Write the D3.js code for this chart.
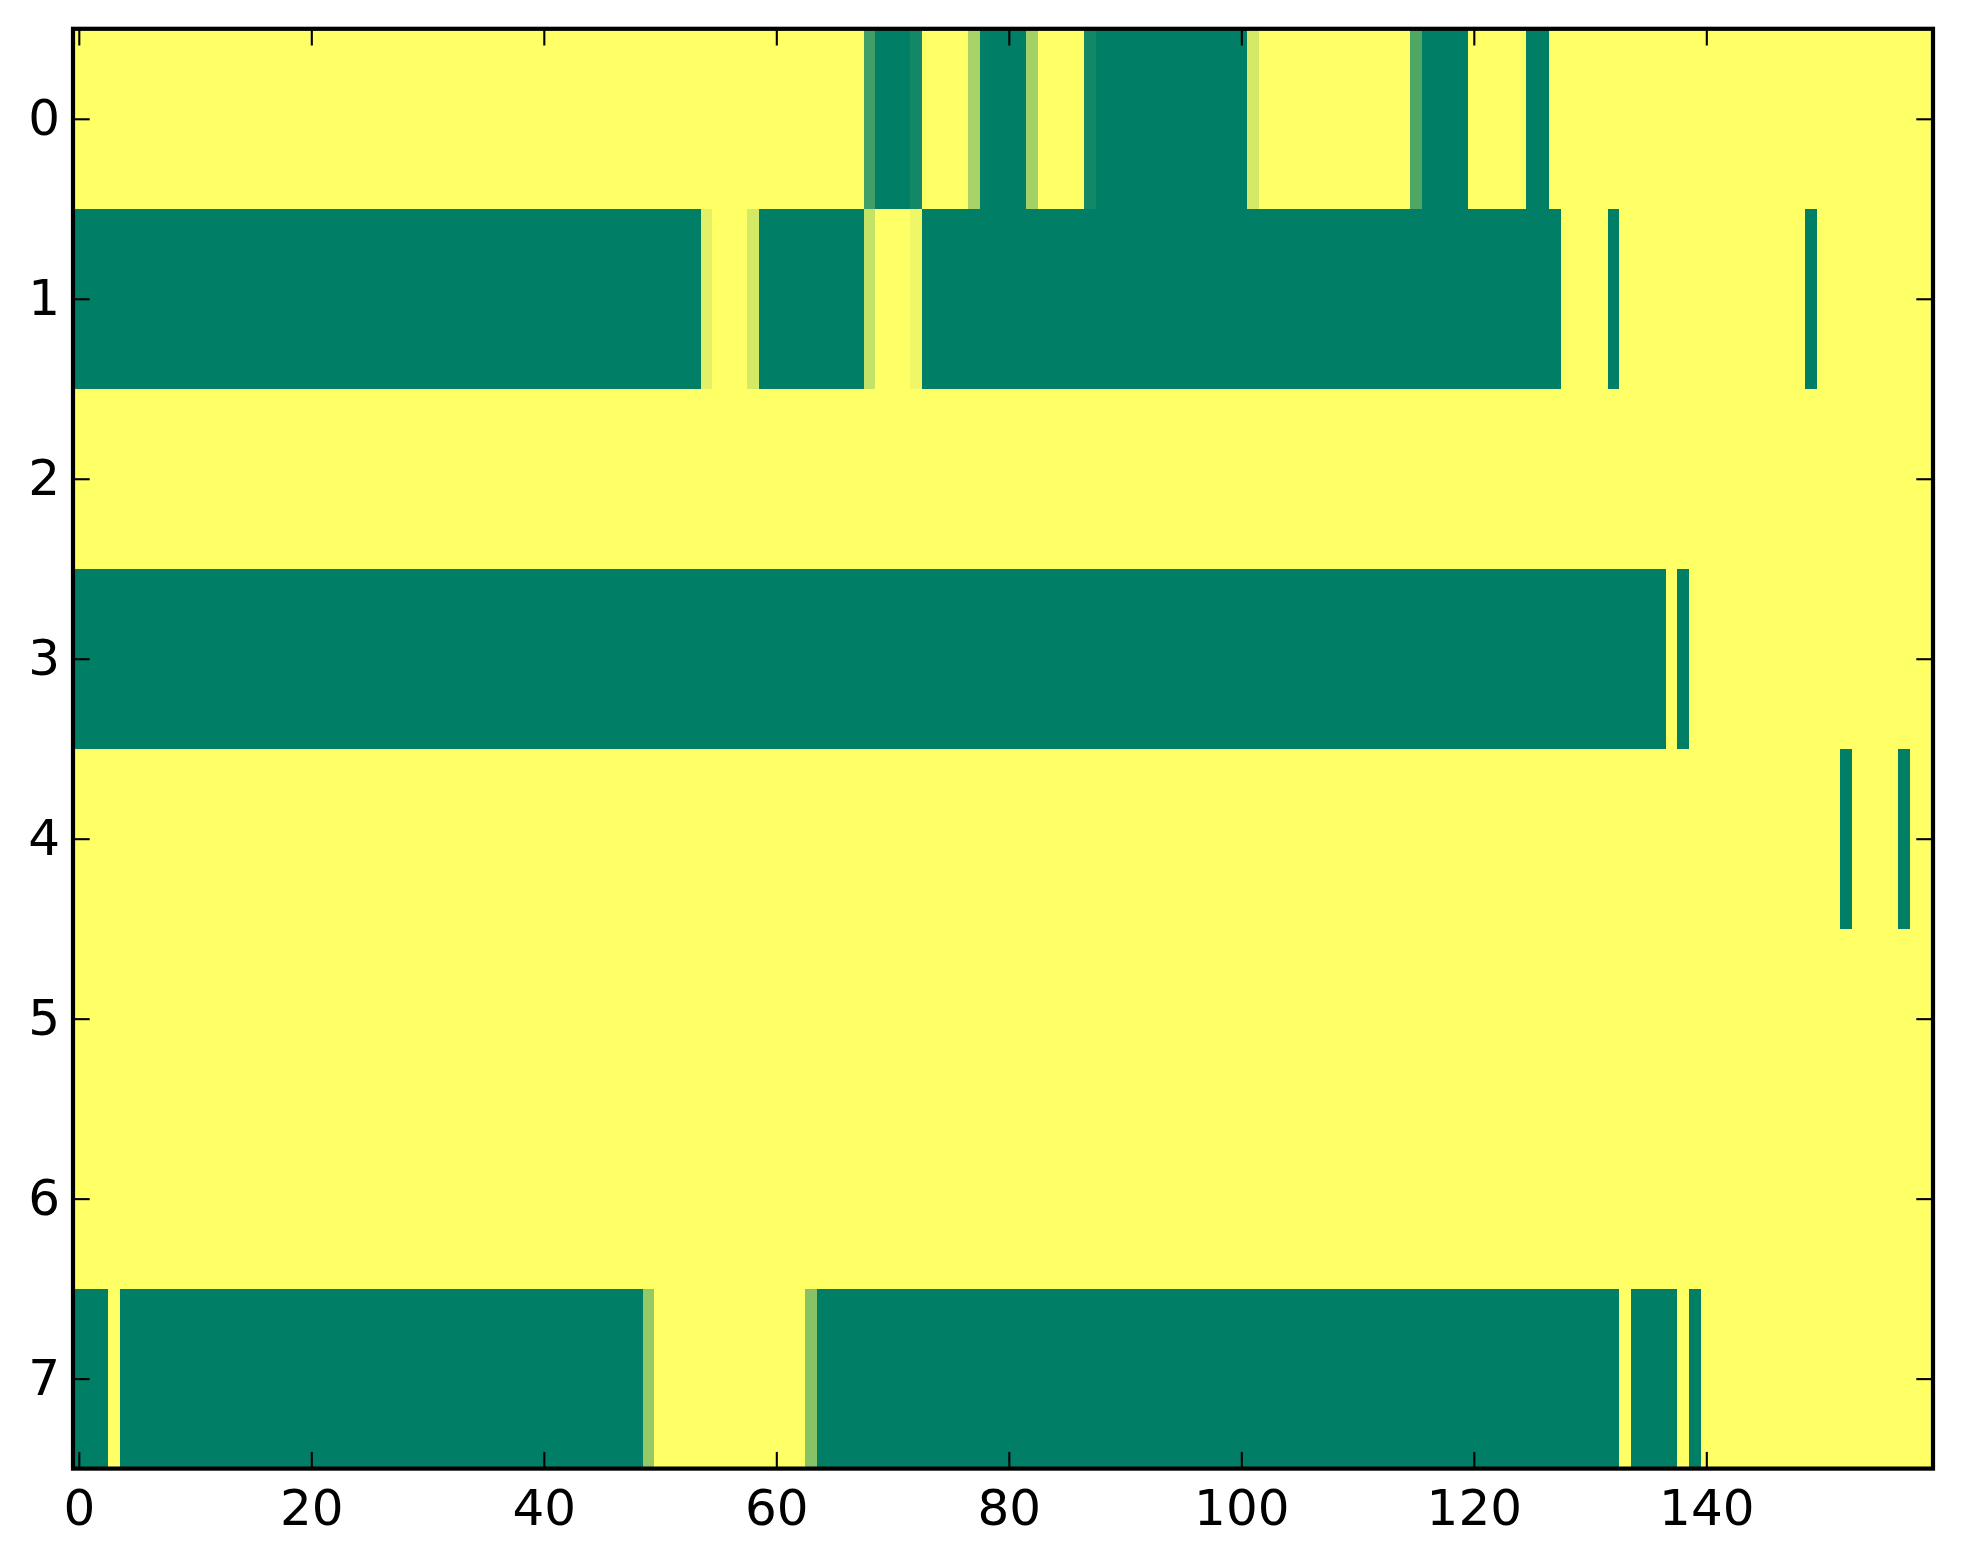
<!DOCTYPE html>
<html>
<head>
<meta charset="utf-8">
<script src="https://cdn.jsdelivr.net/npm/d3@7"></script>
<style>
  html, body { margin: 0; padding: 0; background: #ffffff; }
  svg { display: block; }
</style>
</head>
<body>
<script>
// ---- DATA ----
// Each row: 160 cells, written in groups of 10. '0' = 0, '1' = 1, letters = intermediate values (see levelCodes).
const levelCodes = ["0", "1", "a", "b", "c", "d", "e", "f", "g", "h", "i", "j", "k"];
const levelValues = [0, 1, 0.06, 0.11, 0.17, 0.23, 0.34, 0.36, 0.42, 0.47, 0.69, 0.75, 0.93];

const row0 = "0000000000 0000000000 0000000000 0000000000 0000000000 0000000000 00000000j1 11k0000e11 11f0000k11 1111111111 1c00000000 00000i1111 0000011000 0000000000 0000000000 0000000000";
const row1 = "1111111111 1111111111 1111111111 1111111111 1111111111 1111b000c1 11111111d0 00a1111111 1111111111 1111111111 1111111111 1111111111 1111111100 0010000000 0000000001 0000000000";
const row2 = "0000000000 0000000000 0000000000 0000000000 0000000000 0000000000 0000000000 0000000000 0000000000 0000000000 0000000000 0000000000 0000000000 0000000000 0000000000 0000000000";
const row3 = "1111111111 1111111111 1111111111 1111111111 1111111111 1111111111 1111111111 1111111111 1111111111 1111111111 1111111111 1111111111 1111111111 1111111010 0000000000 0000000000";
const row4 = "0000000000 0000000000 0000000000 0000000000 0000000000 0000000000 0000000000 0000000000 0000000000 0000000000 0000000000 0000000000 0000000000 0000000000 0000000000 0010000100";
const row5 = "0000000000 0000000000 0000000000 0000000000 0000000000 0000000000 0000000000 0000000000 0000000000 0000000000 0000000000 0000000000 0000000000 0000000000 0000000000 0000000000";
const row6 = "0000000000 0000000000 0000000000 0000000000 0000000000 0000000000 0000000000 0000000000 0000000000 0000000000 0000000000 0000000000 0000000000 0000000000 0000000000 0000000000";
const row7 = "1110111111 1111111111 1111111111 1111111111 111111111g 0000000000 000h111111 1111111111 1111111111 1111111111 1111111111 1111111111 1111111111 1110111101 0000000000 0000000000";

const rowStrings = [row0, row1, row2, row3, row4, row5, row6, row7];
const rowLabels = [0, 1, 2, 3, 4, 5, 6, 7];
const xTickValues = [0, 20, 40, 60, 80, 100, 120, 140];
const nCols = 160;

// ---- BUILD MATRIX ----
const codeMap = new Map(levelCodes.map((c, i) => [c, levelValues[i]]));
const cells = [];
rowStrings.forEach((s, r) => {
  const chars = s.replace(/\s+/g, "").split("");
  chars.forEach((ch, c) => cells.push({ row: r, col: c, value: codeMap.get(ch) }));
});

// ---- LAYOUT ----
const W = 1963, H = 1564;
const pLeft = 73.0, pRight = 1933.0, pTop = 28.8, pBottom = 1468.6;
const fontSize = 50;
const tickLen = 16.7;

const svg = d3.select("body").append("svg")
  .attr("width", W).attr("height", H)
  .attr("viewBox", `0 0 ${W} ${H}`);

svg.append("rect").attr("width", W).attr("height", H).attr("fill", "#ffffff");

const x = d3.scaleLinear().domain([-0.5, nCols - 0.5]).range([pLeft, pRight]);
const y = d3.scaleLinear().domain([-0.5, rowLabels.length - 0.5]).range([pTop, pBottom]);
const color = d3.scaleLinear().domain([0, 1]).range(["#ffff66", "#007f66"]);

// ---- CELLS ----
svg.append("g")
  .selectAll("rect")
  .data(cells)
  .join("rect")
  .attr("x", d => x(d.col - 0.5))
  .attr("y", d => y(d.row - 0.5))
  .attr("width", d => x(d.col + 0.5) - x(d.col - 0.5) + 0.6)
  .attr("height", d => y(d.row + 0.5) - y(d.row - 0.5) + 0.6)
  .attr("fill", d => color(d.value))
  .attr("shape-rendering", "crispEdges");

// ---- AXES (inward ticks on all four sides) ----
function styleAxis(g) {
  g.select(".domain").remove();
  g.selectAll(".tick line").attr("stroke", "#000").attr("stroke-width", 2.1);
  g.selectAll(".tick text")
    .attr("fill", "#000")
    .style("font-family", "'DejaVu Sans', sans-serif")
    .style("font-size", fontSize + "px");
}

svg.append("g")
  .attr("transform", `translate(0,${pBottom})`)
  .call(d3.axisBottom(x).tickValues(xTickValues).tickSize(-tickLen).tickPadding(21.4).tickFormat(d3.format("d")))
  .call(styleAxis);

svg.append("g")
  .attr("transform", `translate(0,${pTop})`)
  .call(d3.axisTop(x).tickValues(xTickValues).tickSize(-tickLen).tickFormat(""))
  .call(styleAxis);

svg.append("g")
  .attr("transform", `translate(${pLeft},0)`)
  .call(d3.axisLeft(y).tickValues(rowLabels).tickSize(-tickLen).tickPadding(13).tickFormat(d3.format("d")))
  .call(styleAxis);

svg.append("g")
  .attr("transform", `translate(${pRight},0)`)
  .call(d3.axisRight(y).tickValues(rowLabels).tickSize(-tickLen).tickFormat(""))
  .call(styleAxis);

// ---- SPINES ----
svg.append("rect")
  .attr("x", pLeft).attr("y", pTop)
  .attr("width", pRight - pLeft).attr("height", pBottom - pTop)
  .attr("fill", "none")
  .attr("stroke", "#000")
  .attr("stroke-width", 4.2);
</script>
</body>
</html>
